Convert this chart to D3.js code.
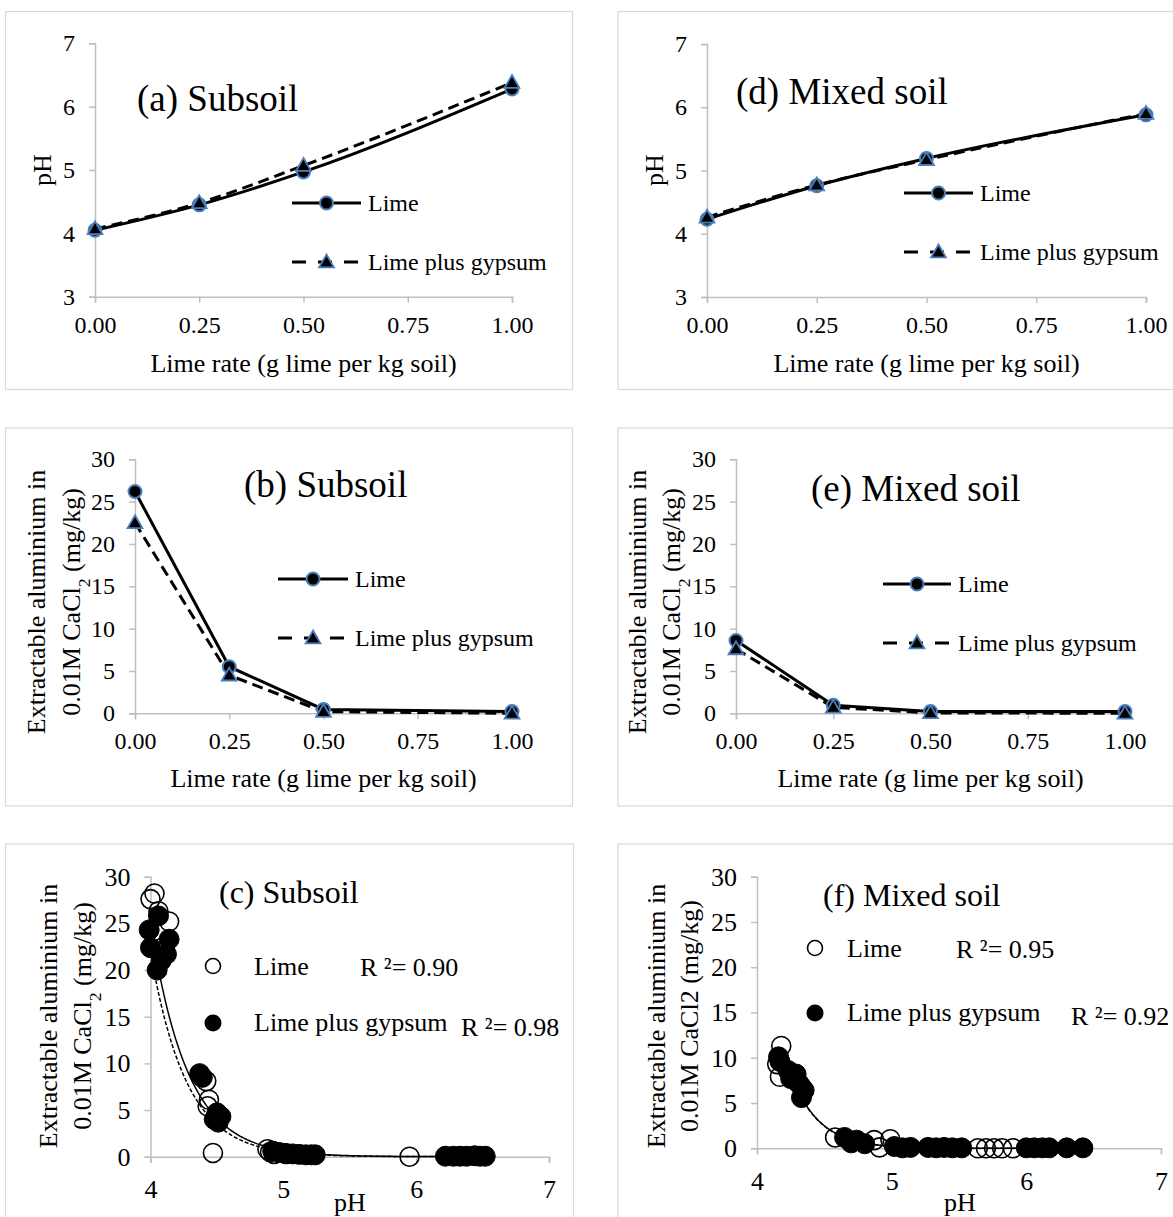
<!DOCTYPE html>
<html>
<head>
<meta charset="utf-8">
<script src="https://cdn.jsdelivr.net/npm/d3@7"></script>
<style>
  body { margin: 0; background: #fff; }
  text { font-family: "Liberation Serif", "Times New Roman", serif; fill: #000; }
</style>
</head>
<body>
<svg id="chart" width="1173" height="1217"></svg>
<script>
// lime rates (g lime per kg soil)
var rates = [0, 0.25, 0.5, 1.0];
var rateTicks = [0, 0.25, 0.5, 0.75, 1.0];

// (a) subsoil pH
var phSubLime = [4.05, 4.45, 4.97, 6.28];
var phSubGyp = [4.07, 4.48, 5.07, 6.38];
var phSubLimeErr = [0.02, 0.03, 0.08, 0.06];
// (d) mixed soil pH
var phMixLime = [4.23, 4.76, 5.19, 5.88];
var phMixGyp = [4.26, 4.77, 5.17, 5.90];
var phMixLimeErr = [0.02, 0.03, 0.08, 0.03];
// (b) subsoil extractable Al
var alSubLime = [26.2, 5.5, 0.45, 0.2];
var alSubGyp = [22.5, 4.5, 0.2, 0.0];
// (e) mixed soil extractable Al
var alMixLime = [8.6, 0.95, 0.2, 0.2];
var alMixGyp = [7.6, 0.7, 0.05, 0.0];

// (c) subsoil: Al vs pH
var scSubLimePH = [4.03, 4.00, 4.06, 4.14, 4.10, 4.42, 4.44, 4.43, 4.47, 4.88, 4.90, 4.93, 5.02, 5.95];
var scSubLimeAl = [28.2, 27.6, 26.3, 25.2, 22.5, 8.1, 6.1, 5.4, 0.4, 0.8, 0.5, 0.3, 0.3, 0.0];
var scSubGypPH = [4.06, 3.99, 4.14, 4.00, 4.12, 4.08, 4.05, 4.37, 4.39, 4.50, 4.48, 4.53, 4.51,
                  4.92, 4.97, 5.02, 5.07, 5.12, 5.17, 5.21, 5.24,
                  6.22, 6.28, 6.33, 6.38, 6.44, 6.48, 6.52];
var scSubGypAl = [25.8, 24.3, 23.3, 22.4, 21.7, 21.0, 20.0, 8.9, 8.5, 4.7, 4.0, 4.3, 3.7,
                  0.6, 0.45, 0.35, 0.3, 0.25, 0.2, 0.2, 0.2,
                  0.05, 0.05, 0.05, 0.05, 0.1, 0.05, 0.05];
// (f) mixed soil: Al vs pH
var scMixLimePH = [4.18, 4.15, 4.17, 4.33, 4.30, 4.58, 4.87, 4.91, 4.99, 5.64, 5.70, 5.76, 5.82, 5.90];
var scMixLimeAl = [11.3, 9.3, 7.9, 6.8, 7.3, 1.2, 0.9, 0.1, 1.0, 0, 0, 0, 0, 0];
var scMixGypPH = [4.16, 4.17, 4.23, 4.25, 4.29, 4.31, 4.33, 4.35, 4.65, 4.70, 4.74, 4.80,
                  5.02, 5.08, 5.14, 5.27, 5.33, 5.39, 5.45, 5.52,
                  6.00, 6.06, 6.12, 6.17, 6.30, 6.42];
var scMixGypAl = [10.1, 9.6, 8.6, 7.7, 8.2, 7.2, 5.6, 6.4, 1.2, 0.6, 0.9, 0.5,
                  0.2, 0.05, 0.1, 0.1, 0.05, 0.1, 0.05, 0.05,
                  0.05, 0.05, 0.05, 0.05, 0.05, 0.05];

// fitted trend lines: [pH start, Al at start, decay rate, pH end]
var fitSubLime = [4.07, 19.4, 3.6, 6.52];
var fitSubGyp = [4.04, 18.9, 3.7, 6.52];
var fitMixLime = [4.20, 10.5, 4.8, 6.42];
var fitMixGyp = [4.20, 10.45, 4.82, 6.42];

var r2Labels = ["R \u00B2= 0.90", "R \u00B2= 0.98", "R \u00B2= 0.95", "R \u00B2= 0.92"];

var svg = d3.select("#chart");
svg.append("rect").attr("width", 1173).attr("height", 1217).attr("fill", "#fff");

var blue = "#4A7EBB";
var axisGrey = "#BFBFBF";

function frame(x, y, w, h) {
  svg.append("rect").attr("x", x).attr("y", y).attr("width", w).attr("height", h)
    .attr("fill", "none").attr("stroke", "#D9D9D9").attr("stroke-width", 1.2);
}

function styleAxis(g, fs) {
  g.selectAll("path,line").attr("stroke", axisGrey).attr("stroke-width", 1.5);
  g.selectAll("text").style("font-size", fs + "px")
    .style("font-family", '"Liberation Serif","Times New Roman",serif').attr("fill", "#000");
}

function addText(x, y, s, fs, anchor) {
  return svg.append("text").attr("x", x).attr("y", y).attr("text-anchor", anchor || "start")
    .style("font-size", fs + "px").text(s);
}

function rotText(x, y, fs) {
  return svg.append("text").attr("transform", "translate(" + x + "," + y + ") rotate(-90)")
    .attr("text-anchor", "middle").style("font-size", fs + "px");
}

function alTitle(x1, x2, cy, fs, sub) {
  rotText(x1, cy, fs).text("Extractable aluminium in");
  var t = rotText(x2, cy, fs);
  if (sub) {
    t.append("tspan").text("0.01M CaCl");
    t.append("tspan").attr("baseline-shift", "sub").style("font-size", (fs * 0.68) + "px").text("2");
    t.append("tspan").text(" (mg/kg)");
  } else {
    t.text("0.01M CaCl2 (mg/kg)");
  }
}

function marker(g, kind, x, y) {
  if (kind === "circle") {
    g.append("circle").attr("cx", x).attr("cy", y).attr("r", 6.5)
      .attr("fill", "#000").attr("stroke", blue).attr("stroke-width", 2);
  } else {
    g.append("path").attr("d", d3.symbol().type(d3.symbolTriangle).size(95)())
      .attr("transform", "translate(" + x + "," + (y + 1) + ")")
      .attr("fill", "#000").attr("stroke", blue).attr("stroke-width", 1.8);
  }
}

// line panels (a,b,d,e)
function linePanel(o) {
  frame(o.frame[0], o.frame[1], o.frame[2], o.frame[3]);
  var x = d3.scaleLinear().domain([0, 1]).range(o.xr);
  var y = d3.scaleLinear().domain(o.yd).range(o.yr);

  var gx = svg.append("g").attr("transform", "translate(0," + o.yr[0] + ")")
    .call(d3.axisBottom(x).tickValues(rateTicks).tickFormat(d3.format(".2f")).tickSizeOuter(0).tickSize(6).tickPadding(13));
  styleAxis(gx, 24);
  var gy = svg.append("g").attr("transform", "translate(" + o.xr[0] + ",0)")
    .call(d3.axisLeft(y).tickValues(o.yTicks).tickFormat(d3.format("d")).tickSizeOuter(0).tickSize(6).tickPadding(14));
  styleAxis(gy, 24);

  var line = d3.line().x(function (d) { return x(d[0]); }).y(function (d) { return y(d[1]); })
    .curve(o.smooth ? d3.curveMonotoneX : d3.curveLinear);
  var lime = d3.zip(rates, o.lime);
  var gyp = d3.zip(rates, o.gyp);

  if (o.err) {
    var ge = svg.append("g");
    rates.forEach(function (r, i) {
      var e = o.err[i], cx = x(r);
      var y1 = y(o.lime[i] - e), y2 = y(o.lime[i] + e);
      ge.append("line").attr("x1", cx).attr("x2", cx).attr("y1", y1).attr("y2", y2).attr("stroke", "#595959").attr("stroke-width", 1.3);
      [y1, y2].forEach(function (yy) {
        ge.append("line").attr("x1", cx - 5).attr("x2", cx + 5).attr("y1", yy).attr("y2", yy).attr("stroke", "#595959").attr("stroke-width", 1.3);
      });
    });
  }

  svg.append("path").datum(gyp).attr("d", line).attr("fill", "none")
    .attr("stroke", "#000").attr("stroke-width", 3).attr("stroke-dasharray", "11,6");
  svg.append("path").datum(lime).attr("d", line).attr("fill", "none")
    .attr("stroke", "#000").attr("stroke-width", 3);
  var gm = svg.append("g");
  lime.forEach(function (d) { marker(gm, "circle", x(d[0]), y(d[1])); });
  gyp.forEach(function (d) { marker(gm, "tri", x(d[0]), y(d[1])); });

  // legend
  var L = o.legend;
  svg.append("line").attr("x1", L.x1).attr("x2", L.x2).attr("y1", L.y1).attr("y2", L.y1)
    .attr("stroke", "#000").attr("stroke-width", 3);
  marker(svg, "circle", (L.x1 + L.x2) / 2, L.y1);
  svg.append("line").attr("x1", L.x1).attr("x2", L.x2).attr("y1", L.y2).attr("y2", L.y2)
    .attr("stroke", "#000").attr("stroke-width", 3).attr("stroke-dasharray", "14,12");
  marker(svg, "tri", (L.x1 + L.x2) / 2, L.y2);
  addText(L.x2 + 7, L.y1 + 8, "Lime", 24);
  addText(L.x2 + 7, L.y2 + 8, "Lime plus gypsum", 24);

  addText(o.title[0], o.title[1], o.title[2], 37);
  addText((o.xr[0] + o.xr[1]) / 2, o.xTitleY, "Lime rate (g lime per kg soil)", 26, "middle");
}

// scatter panels (c,f)
function scatterPanel(o) {
  frame(o.frame[0], o.frame[1], o.frame[2], o.frame[3]);
  var x = d3.scaleLinear().domain([4, 7]).range(o.xr);
  var y = d3.scaleLinear().domain([0, 30]).range(o.yr);

  var gx = svg.append("g").attr("transform", "translate(0," + o.yr[0] + ")")
    .call(d3.axisBottom(x).tickValues([4, 5, 6, 7]).tickFormat(d3.format("d")).tickSizeOuter(0).tickSize(6).tickPadding(17));
  styleAxis(gx, 26);
  var gy = svg.append("g").attr("transform", "translate(" + o.xr[0] + ",0)")
    .call(d3.axisLeft(y).tickValues(d3.range(0, 31, 5)).tickFormat(d3.format("d")).tickSizeOuter(0).tickSize(6).tickPadding(14));
  styleAxis(gy, 26);

  var line = d3.line().x(function (d) { return x(d[0]); }).y(function (d) { return y(d[1]); });
  function fitPts(f) {
    return d3.range(f[0], f[3] + 0.001, 0.01).map(function (p) { return [p, f[1] * Math.exp(-f[2] * (p - f[0]))]; });
  }
  svg.append("path").datum(fitPts(o.fitGyp)).attr("d", line).attr("fill", "none")
    .attr("stroke", "#000").attr("stroke-width", 1.5).attr("stroke-dasharray", "4,2");
  svg.append("path").datum(fitPts(o.fitLime)).attr("d", line).attr("fill", "none")
    .attr("stroke", "#000").attr("stroke-width", 1.5);

  svg.append("g").selectAll("circle").data(d3.zip(o.limePH, o.limeAl)).enter().append("circle")
    .attr("cx", function (d) { return x(d[0]); }).attr("cy", function (d) { return y(d[1]); })
    .attr("r", 9.5).attr("fill", "none").attr("stroke", "#000").attr("stroke-width", 1.6);
  svg.append("g").selectAll("circle").data(d3.zip(o.gypPH, o.gypAl)).enter().append("circle")
    .attr("cx", function (d) { return x(d[0]); }).attr("cy", function (d) { return y(d[1]); })
    .attr("r", 10).attr("fill", "#000").attr("stroke", "#000").attr("stroke-width", 1);

  var L = o.legend;
  svg.append("circle").attr("cx", L.cx).attr("cy", L.y1).attr("r", 7.5)
    .attr("fill", "none").attr("stroke", "#000").attr("stroke-width", 1.6);
  svg.append("circle").attr("cx", L.cx).attr("cy", L.y2).attr("r", 8.5).attr("fill", "#000");
  addText(L.tx, L.y1 + 9, "Lime", 26);
  addText(L.tx, L.y2 + 8, "Lime plus gypsum", 26);
  addText(L.r1[0], L.r1[1], o.r2[0], 26);
  addText(L.r2[0], L.r2[1], o.r2[1], 26);

  addText(o.title[0], o.title[1], o.title[2], 32);
  addText(o.pHx, 1211, "pH", 26, "middle");
}

// (a)
linePanel({
  frame: [5.5, 11.5, 567, 378], xr: [95, 512], yr: [296.7, 43.3], yd: [3, 7], yTicks: [3, 4, 5, 6, 7],
  lime: phSubLime, gyp: phSubGyp, err: phSubLimeErr, smooth: true,
  legend: { x1: 292, x2: 361, y1: 203, y2: 262 },
  title: [137, 111, "(a) Subsoil"], xTitleY: 372
});
rotText(51, 170, 26).text("pH");

// (d)
linePanel({
  frame: [618, 11.5, 600, 378], xr: [707, 1146], yr: [297, 44], yd: [3, 7], yTicks: [3, 4, 5, 6, 7],
  lime: phMixLime, gyp: phMixGyp, err: phMixLimeErr, smooth: true,
  legend: { x1: 904, x2: 973, y1: 193, y2: 252 },
  title: [736, 104, "(d) Mixed soil"], xTitleY: 372
});
rotText(663, 170, 26).text("pH");

// (b)
linePanel({
  frame: [5.5, 428, 567, 378], xr: [135, 512], yr: [713.3, 459.3], yd: [0, 30], yTicks: d3.range(0, 31, 5),
  lime: alSubLime, gyp: alSubGyp, smooth: false,
  legend: { x1: 278, x2: 348, y1: 579, y2: 638 },
  title: [244, 497, "(b) Subsoil"], xTitleY: 787
});
alTitle(45, 80, 602, 26, true);

// (e)
linePanel({
  frame: [618, 428, 600, 378], xr: [736, 1125], yr: [713.3, 459.3], yd: [0, 30], yTicks: d3.range(0, 31, 5),
  lime: alMixLime, gyp: alMixGyp, smooth: false,
  legend: { x1: 883, x2: 951, y1: 584, y2: 643 },
  title: [811, 501, "(e) Mixed soil"], xTitleY: 787
});
alTitle(646, 680, 602, 26, true);

// (c)
scatterPanel({
  frame: [5.5, 844, 568, 400], xr: [150.5, 549], yr: [1156.7, 876.7],
  limePH: scSubLimePH, limeAl: scSubLimeAl, gypPH: scSubGypPH, gypAl: scSubGypAl,
  fitLime: fitSubLime, fitGyp: fitSubGyp, r2: [r2Labels[0], r2Labels[1]],
  legend: { cx: 213, tx: 254, y1: 966, y2: 1023, r1: [360, 976], r2: [461, 1036] },
  title: [219, 903, "(c) Subsoil"], pHx: 350
});
alTitle(57, 91, 1016, 26, true);

// (f)
scatterPanel({
  frame: [618, 844, 600, 400], xr: [757, 1161], yr: [1148.3, 876.7],
  limePH: scMixLimePH, limeAl: scMixLimeAl, gypPH: scMixGypPH, gypAl: scMixGypAl,
  fitLime: fitMixLime, fitGyp: fitMixGyp, r2: [r2Labels[2], r2Labels[3]],
  legend: { cx: 815, tx: 847, y1: 948, y2: 1013, r1: [956, 958], r2: [1071, 1025] },
  title: [823, 906, "(f) Mixed soil"], pHx: 960
});
alTitle(665, 698, 1016, 26, false);
</script>
</body>
</html>
